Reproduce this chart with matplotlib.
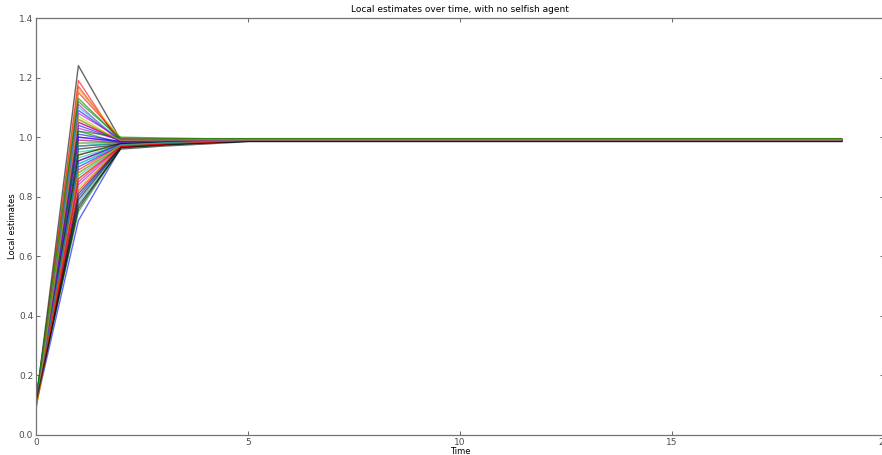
import matplotlib
matplotlib.use('Agg')
import matplotlib.pyplot as plt

# time steps
time = list(range(20))

# estimates per agent at t=0, t=1, t=2, t=3 and the settled value afterwards
start = [0.10, 0.11, 0.10, 0.12, 0.10, 0.09, 0.11, 0.10, 0.12, 0.10,
         0.11, 0.10, 0.09, 0.11, 0.10, 0.12, 0.10, 0.11, 0.10, 0.09,
         0.11, 0.10, 0.12, 0.10, 0.11, 0.10, 0.09, 0.11, 0.10, 0.12,
         0.10, 0.11, 0.10, 0.09, 0.11, 0.10, 0.12, 0.10, 0.11, 0.10,
         0.09, 0.11, 0.10, 0.12, 0.10, 0.11, 0.10, 0.09, 0.11, 0.10,
         0.12, 0.10, 0.11, 0.10, 0.09, 0.11]
peak = [0.72, 1.06, 1.19, 0.95, 1.03, 0.99, 1.24, 0.80, 1.12, 1.17,
        0.91, 1.00, 0.86, 0.76, 1.09, 1.02, 1.15, 0.93, 0.84, 1.07,
        0.97, 0.90, 0.88, 1.05, 0.78, 1.11, 0.83, 0.96, 1.01, 0.75,
        0.92, 0.87, 1.08, 0.94, 0.81, 1.04, 0.98, 0.89, 1.10, 0.85,
        1.16, 0.79, 0.92, 1.13, 0.82, 0.97, 1.05, 0.88, 0.94, 1.00,
        1.02, 0.86, 0.91, 0.99, 1.06, 0.77]
step2 = [0.965, 0.985, 0.975, 0.970, 0.990, 0.980, 0.990, 0.968, 0.995, 0.985,
         0.972, 0.985, 0.970, 0.965, 0.990, 0.980, 0.995, 0.975, 0.968, 0.985,
         0.978, 0.972, 0.970, 0.990, 0.966, 0.980, 0.969, 0.975, 0.985, 0.965,
         0.974, 0.971, 0.995, 0.976, 0.967, 0.988, 0.982, 0.973, 0.992, 0.970,
         0.998, 0.966, 0.977, 0.993, 0.968, 0.981, 0.987, 0.972, 0.979, 0.984,
         1.000, 0.969, 0.974, 0.983, 0.989, 0.960]
step3 = [0.975, 0.989, 0.982, 0.978, 0.992, 0.986, 0.992, 0.976, 0.994, 0.989,
         0.980, 0.989, 0.978, 0.974, 0.992, 0.985, 0.994, 0.981, 0.977, 0.989,
         0.984, 0.980, 0.979, 0.992, 0.975, 0.986, 0.978, 0.982, 0.989, 0.974,
         0.981, 0.979, 0.994, 0.982, 0.976, 0.990, 0.986, 0.980, 0.993, 0.978,
         0.996, 0.975, 0.983, 0.993, 0.977, 0.986, 0.990, 0.980, 0.984, 0.988,
         0.997, 0.978, 0.981, 0.987, 0.990, 0.970]
step4 = [0.981, 0.990, 0.986, 0.984, 0.992, 0.988, 0.992, 0.982, 0.993, 0.990,
         0.985, 0.990, 0.984, 0.981, 0.992, 0.988, 0.993, 0.986, 0.983, 0.990,
         0.987, 0.985, 0.984, 0.992, 0.982, 0.988, 0.984, 0.986, 0.990, 0.981,
         0.986, 0.984, 0.993, 0.986, 0.982, 0.991, 0.988, 0.985, 0.992, 0.984,
         0.995, 0.982, 0.987, 0.993, 0.983, 0.988, 0.991, 0.985, 0.987, 0.989,
         0.995, 0.984, 0.986, 0.989, 0.991, 0.977]
settled = [0.987, 0.991, 0.989, 0.988, 0.992, 0.990, 0.992, 0.987, 0.993, 0.991,
           0.988, 0.991, 0.988, 0.986, 0.992, 0.990, 0.993, 0.989, 0.987, 0.991,
           0.990, 0.988, 0.988, 0.992, 0.987, 0.990, 0.988, 0.989, 0.991, 0.986,
           0.989, 0.988, 0.993, 0.989, 0.987, 0.991, 0.990, 0.988, 0.992, 0.988,
           0.995, 0.987, 0.989, 0.993, 0.987, 0.990, 0.991, 0.988, 0.989, 0.990,
           0.995, 0.988, 0.989, 0.990, 0.991, 0.985]

colors = ['b', 'g', 'r', 'c', 'm', 'y', 'k']

fig = plt.figure(figsize=(8.82, 4.55), dpi=100, facecolor='white')
ax = fig.add_axes([36 / 882, 1 - 435 / 455, 848 / 882, (435 - 18) / 455])

for i in range(len(peak)):
    values = [start[i], peak[i], step2[i], step3[i], step4[i]] + [settled[i]] * (len(time) - 5)
    ax.plot(time, values, color=colors[i % len(colors)], lw=1.0, alpha=0.6)

ax.set_xlim(0, 20)
ax.set_ylim(0, 1.4)
ax.set_xticks([0, 5, 10, 15, 20])
ax.set_yticks([0.0, 0.2, 0.4, 0.6, 0.8, 1.0, 1.2, 1.4])
ax.set_yticklabels(['0.0', '0.2', '0.4', '0.6', '0.8', '1.0', '1.2', '1.4'])
ax.tick_params(direction='in', top=True, right=True, labelsize=6.5,
               length=3, width=0.6, colors='0.3', pad=2)
for s in ax.spines.values():
    s.set_color('0.45')
    s.set_linewidth(0.9)

ax.set_title('Local estimates over time, with no selfish agent', fontsize=6.5, pad=4)
ax.set_xlabel('Time', fontsize=6, labelpad=0.5)
ax.set_ylabel('Local estimates', fontsize=6, labelpad=1)

fig.savefig('out.png', dpi=100, facecolor='white')
